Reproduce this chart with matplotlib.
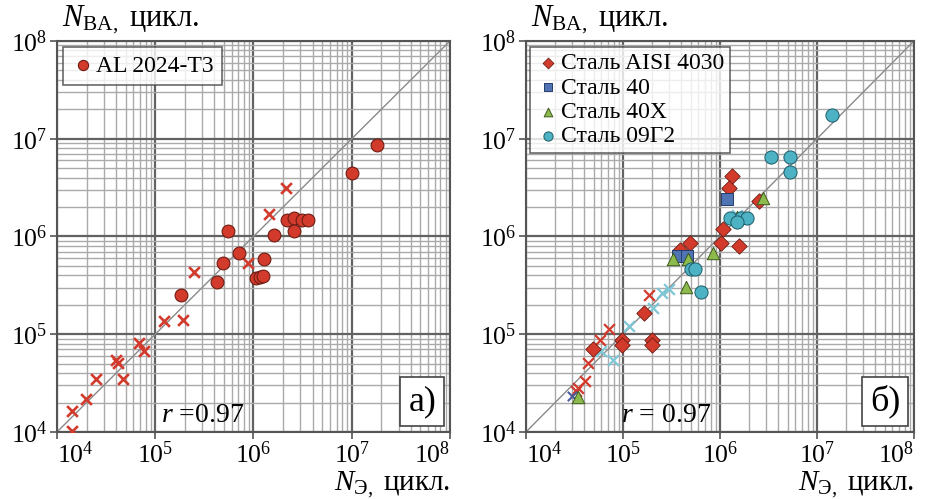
import matplotlib
matplotlib.use("Agg")
import matplotlib.pyplot as plt
from matplotlib.ticker import LogLocator, FixedLocator

plt.rcParams['font.family'] = ['Liberation Serif', 'DejaVu Serif']
plt.rcParams['mathtext.fontset'] = 'custom'
plt.rcParams['mathtext.rm'] = 'Liberation Serif'
plt.rcParams['mathtext.it'] = 'Liberation Serif:italic'

# ---- panel a) AL 2024-T3
al_x = [1.79e7, 1.0e7, 2.2e6, 2.58e6, 3.13e6, 3.6e6, 2.58e6, 1.6e6, 5.5e5, 7.1e5,
        1.28e6, 4.85e5, 1.06e6, 1.16e6, 1.24e6, 4.28e5, 1.81e5]
al_y = [8.7e6, 4.5e6, 1.47e6, 1.56e6, 1.47e6, 1.47e6, 1.13e6, 1.04e6, 1.13e6, 6.8e5,
        5.9e5, 5.3e5, 3.74e5, 3.83e5, 3.9e5, 3.4e5, 2.5e5]
alx_x = [2.14e6, 1.44e6, 8.8e5, 2.48e5, 1.24e5, 1.9e5, 6.8e4, 7.7e4, 4.0e4, 4.17e4,
         4.73e4, 2.5e4, 1.96e4, 1.43e4, 1.43e4]
alx_y = [3.14e6, 1.69e6, 5.4e5, 4.35e5, 1.36e5, 1.4e5, 8.2e4, 6.7e4, 5.5e4, 5.05e4,
         3.5e4, 3.5e4, 2.2e4, 1.65e4, 1.03e4]

# ---- panel б) steels
aisi_x = [1.34e6, 1.25e6, 2.52e6, 1.08e6, 1.02e6, 1.56e6, 4.87e5, 3.9e5, 1.66e5,
          9.7e4, 9.7e4, 2.0e5, 2.0e5, 4.94e4]
aisi_y = [4.17e6, 3.1e6, 2.28e6, 1.2e6, 8.65e5, 7.9e5, 8.65e5, 7.3e5, 1.66e5,
          8.75e4, 7.77e4, 8.75e4, 7.8e4, 7.0e4]
s40_x = [1.18e6, 3.7e5, 4.6e5]
s40_y = [2.43e6, 6.3e5, 6.3e5]
s40x_x = [2.79e6, 1.49e6, 8.4e5, 3.3e5, 4.7e5, 4.5e5, 3.46e4]
s40x_y = [2.5e6, 1.6e6, 6.7e5, 5.9e5, 5.9e5, 3.07e5, 2.3e4]
g2_x = [1.44e7, 3.38e6, 5.27e6, 5.27e6, 1.27e6, 1.66e6, 1.88e6, 1.51e6, 5.0e5, 5.5e5, 6.3e5]
g2_y = [1.75e7, 6.5e6, 6.5e6, 4.6e6, 1.54e6, 1.54e6, 1.54e6, 1.39e6, 4.6e5, 4.6e5, 2.73e5]
redx_x = [1.87e5, 7.2e4, 5.8e4, 4.4e4, 4.06e4, 3.46e4, 3.3e4]
redx_y = [2.52e5, 1.12e5, 8.75e4, 5.05e4, 3.3e4, 2.8e4, 2.6e4]
cyanx_x = [2.5e5, 3.0e5, 2.05e5, 1.15e5, 6.0e4, 7.9e4, 1.51e6]
cyanx_y = [2.63e5, 2.9e5, 1.85e5, 1.2e5, 6.8e4, 5.4e4, 1.66e6]
bluex_x = [2.96e4]
bluex_y = [2.33e4]

ticks = [1e4, 1e5, 1e6, 1e7, 1e8]
tick_labels = ['$10^{4}$', '$10^{5}$', '$10^{6}$', '$10^{7}$', '$10^{8}$']

RED = '#d23a2c'
RED_EDGE = '#6e1c14'


def setup(ax, letter, rtext, rx):
    ax.set_xscale('log')
    ax.set_yscale('log')
    ax.set_xlim(1e4, 1e8)
    ax.set_ylim(1e4, 1e8)
    ax.xaxis.set_major_locator(FixedLocator(ticks))
    ax.yaxis.set_major_locator(FixedLocator(ticks))
    ax.set_xticklabels(tick_labels)
    ax.set_yticklabels(tick_labels)
    ax.xaxis.set_minor_locator(LogLocator(base=10, subs=range(2, 10), numticks=20))
    ax.yaxis.set_minor_locator(LogLocator(base=10, subs=range(2, 10), numticks=20))
    ax.tick_params(which='major', length=5, width=1.2, color='#555555',
                   labelsize=18.5, pad=2, direction='out')
    ax.tick_params(which='minor', length=0)
    # edge labels of the x axis sit inside the axis span, as in the original
    labs = ax.get_xticklabels()
    labs[0].set_ha('left')
    labs[-1].set_ha('right')
    ax.grid(which='minor', color='#aaaaaa', lw=1.0)
    ax.grid(which='major', color='#626262', lw=1.6)
    ax.set_axisbelow(True)
    for s in ax.spines.values():
        s.set_color('#555555')
        s.set_linewidth(1.5)
    ax.plot([1e4, 1e8], [1e4, 1e8], color='#8a8a8a', lw=1.0, zorder=1.5)
    ax.text(0.965, 0.035, letter, transform=ax.transAxes, ha='right', va='bottom',
            fontsize=26, bbox=dict(boxstyle='square,pad=0.22', fc='white',
                                   ec='#444444', lw=1.2), zorder=5)
    ax.text(rx, 0.01, rtext, transform=ax.transAxes, ha='left', va='bottom',
            fontsize=20, zorder=5)


fig = plt.figure(figsize=(9.25, 4.99), dpi=100)
ax1 = fig.add_axes([0.0616, 0.1343, 0.4249, 0.7836])
ax2 = fig.add_axes([0.5686, 0.1343, 0.4195, 0.7836])

# left
setup(ax1, 'а)', '$r$ =0.97', 0.265)
ax1.scatter(alx_x, alx_y, marker='x', s=60, color=RED, lw=1.9, zorder=3)
ax1.scatter(al_x, al_y, marker='o', s=85, color=RED, edgecolors=RED_EDGE, lw=0.8,
            zorder=4, label='AL 2024-T3')
leg = ax1.legend(loc='upper left', fontsize=17, frameon=True, fancybox=False,
                 edgecolor='#444444', handletextpad=0.05, handlelength=1.0,
                 borderpad=0.35, borderaxespad=0, markerscale=0.8,
                 bbox_to_anchor=(0.015, 0.985))
leg.get_frame().set_linewidth(1.2)
leg.set_zorder(6)

# right
setup(ax2, 'б)', '$r$ = 0.97', 0.245)
ax2.scatter(redx_x, redx_y, marker='x', s=60, color=RED, lw=1.6, zorder=3)
ax2.scatter(cyanx_x, cyanx_y, marker='x', s=60, color='#7dc7d6', lw=1.6, zorder=3)
ax2.scatter(bluex_x, bluex_y, marker='x', s=45, color='#4b5c9a', lw=1.5, zorder=3)
ax2.scatter(aisi_x, aisi_y, marker='D', s=62, color=RED, edgecolors=RED_EDGE, lw=0.6,
            zorder=4, label='Сталь AISI 4030')
ax2.scatter(s40_x, s40_y, marker='s', s=75, color='#4f73b3', edgecolors='#243d6b',
            lw=0.7, zorder=4, label='Сталь 40')
ax2.scatter(s40x_x, s40x_y, marker='^', s=80, color='#8dba4c', edgecolors='#3e5a1e',
            lw=0.7, zorder=4, label='Сталь 40Х')
ax2.scatter(g2_x, g2_y, marker='o', s=90, color='#4db2c3', edgecolors='#1e5c68',
            lw=0.7, zorder=4, label='Сталь 09Г2')
leg2 = ax2.legend(loc='upper left', fontsize=17, frameon=True, fancybox=False,
                  edgecolor='#444444', handletextpad=0.05, handlelength=1.0,
                  borderpad=0.25, labelspacing=0.12, markerscale=0.7,
                  borderaxespad=0, bbox_to_anchor=(0.01, 0.985))
leg2.get_frame().set_linewidth(1.2)
leg2.set_zorder(6)

# axis captions
for ax in (ax1, ax2):
    ax.text(0.012, 1.012, r'$N_{\mathrm{ВА,}}$ цикл.', transform=ax.transAxes,
            ha='left', va='bottom', fontsize=22)
    ax.text(1.0, -0.15, r'$N_{\mathrm{Э,}}$ цикл.', transform=ax.transAxes,
            ha='right', va='baseline', fontsize=21)

fig.savefig('out.png', dpi=100)
